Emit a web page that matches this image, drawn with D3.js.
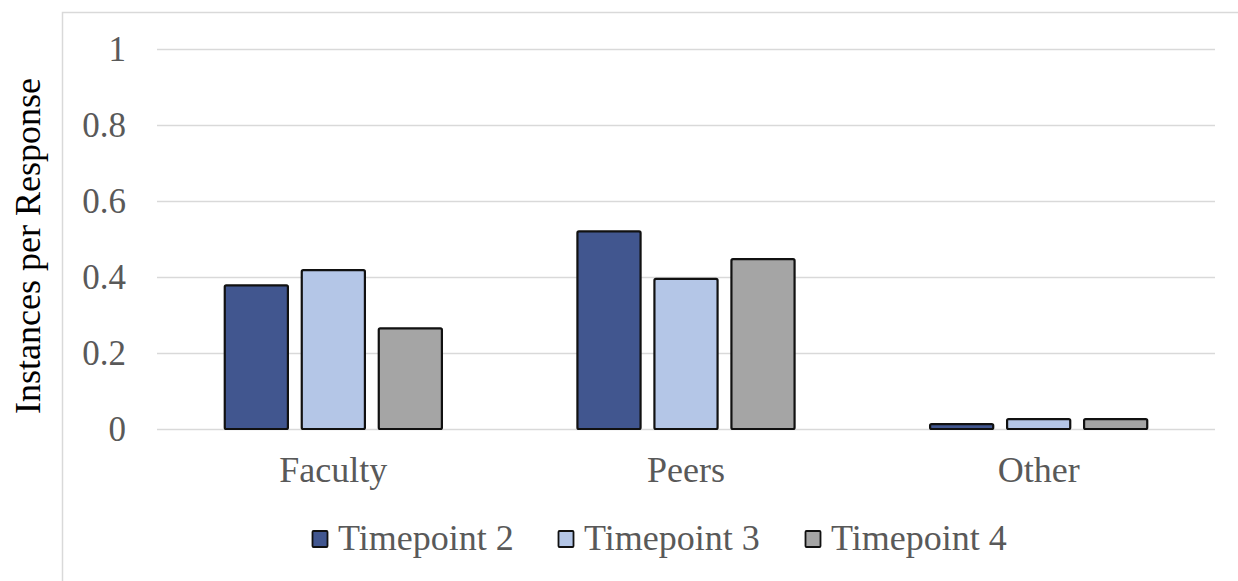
<!DOCTYPE html>
<html>
<head>
<meta charset="utf-8">
<title>Instances per Response</title>
<script src="https://d3js.org/d3.v7.min.js"></script>
<style>
  body { margin: 0; background: #fff; }
  text { font-family: "Liberation Serif", "Times New Roman", serif; }
</style>
</head>
<body>
<div id="chart"></div>
<script>
// data
var categories = ["Faculty", "Peers", "Other"];
var seriesNames = ["Timepoint 2", "Timepoint 3", "Timepoint 4"];
var timepoint2 = [0.378, 0.52, 0.013];
var timepoint3 = [0.418, 0.395, 0.026];
var timepoint4 = [0.265, 0.447, 0.026];
var yTicks = [0, 0.2, 0.4, 0.6, 0.8, 1];
var colors = ["#41568f", "#b4c6e7", "#a5a5a5"];

var W = 1238, H = 581;
var plot = {left: 157, right: 1215, top: 49, bottom: 429};

var svg = d3.select("#chart").append("svg")
    .attr("width", W)
    .attr("height", H);

// chart frame
svg.append("rect")
    .attr("x", 62.5).attr("y", 12.5)
    .attr("width", W).attr("height", H)
    .attr("fill", "none")
    .attr("stroke", "#d9d9d9")
    .attr("stroke-width", 1.5);

var x0 = d3.scaleBand()
    .domain(categories)
    .range([plot.left, plot.right])
    .paddingInner(0)
    .paddingOuter(0);

var x1 = d3.scaleBand()
    .domain(seriesNames)
    .range([0, x0.bandwidth()])
    .paddingInner(0.18)
    .paddingOuter(0.88);

var y = d3.scaleLinear()
    .domain([0, 1])
    .range([plot.bottom, plot.top]);

// gridlines
svg.append("g")
    .selectAll("line")
    .data(yTicks)
    .enter()
    .append("line")
        .attr("x1", plot.left)
        .attr("x2", plot.right)
        .attr("y1", function(d) { return Math.round(y(d)) + 0.5 })
        .attr("y2", function(d) { return Math.round(y(d)) + 0.5 })
        .attr("stroke", "#d9d9d9")
        .attr("stroke-width", 1.5);

// y axis labels
var yAxis = svg.append("g")
    .attr("transform", "translate(" + (plot.left - 31) + ",0)")
    .call(d3.axisLeft(y).tickValues(yTicks).tickSize(0).tickPadding(0)
        .tickFormat(function(d) { return d3.format("")(d) }));
yAxis.select(".domain").remove();
yAxis.selectAll("text")
    .style("font-family", "'Liberation Serif', serif")
    .style("font-size", "35px")
    .attr("fill", "#595959");

// bars
var table = categories.map(function(c, i) {
    return {cat: c, values: [timepoint2[i], timepoint3[i], timepoint4[i]]};
});

var groups = svg.append("g")
    .selectAll("g")
    .data(table)
    .enter()
    .append("g")
        .attr("transform", function(d) { return "translate(" + x0(d.cat) + ",0)" });

groups.selectAll("rect")
    .data(function(d) { return d.values.map(function(v, j) { return {s: seriesNames[j], v: v, j: j} }) })
    .enter()
    .append("rect")
        .attr("x", function(d) { return x1(d.s) })
        .attr("y", function(d) { return y(d.v) })
        .attr("width", x1.bandwidth())
        .attr("height", function(d) { return plot.bottom - y(d.v) })
        .attr("rx", 1.5)
        .style("fill", function(d) { return colors[d.j] })
        .style("stroke", "#111")
        .style("stroke-width", 2.2);

// category axis
var xAxis = svg.append("g")
    .attr("transform", "translate(0," + plot.bottom + ")")
    .call(d3.axisBottom(x0).tickSize(0).tickPadding(27));
xAxis.select(".domain").remove();
xAxis.selectAll("text")
    .style("font-family", "'Liberation Serif', serif")
    .style("font-size", "36px")
    .attr("fill", "#595959");

// y title
svg.append("text")
    .attr("transform", "translate(40," + 246 + ") rotate(-90)")
    .attr("text-anchor", "middle")
    .style("font-size", "36px")
    .attr("fill", "#000")
    .text("Instances per Response");

// legend
var legendX = [312, 558, 805];
var legend = svg.append("g")
    .selectAll("g")
    .data(seriesNames)
    .enter()
    .append("g")
        .attr("transform", function(d, i) { return "translate(" + legendX[i] + ",550)" });
legend.append("rect")
    .attr("x", 0.5).attr("y", -19)
    .attr("width", 15).attr("height", 16)
    .attr("rx", 1)
    .style("fill", function(d, i) { return colors[i] })
    .style("stroke", "#111")
    .style("stroke-width", 1.8);
legend.append("text")
    .attr("x", 26)
    .style("font-size", "36px")
    .attr("fill", "#595959")
    .text(function(d) { return d });
</script>
</body>
</html>
